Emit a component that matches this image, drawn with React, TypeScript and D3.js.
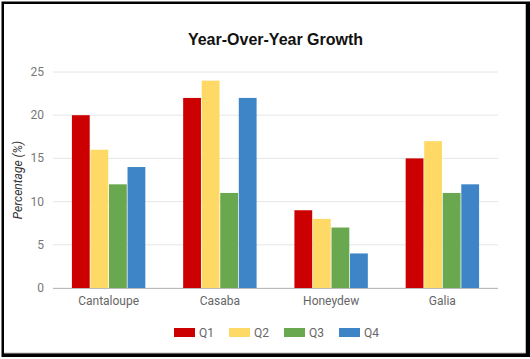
import { useEffect, useRef } from "react";
import * as d3 from "d3";

const categories = ["Cantaloupe", "Casaba", "Honeydew", "Galia"];
const quarters = ["Q1", "Q2", "Q3", "Q4"];
const q1 = [20, 22, 9, 15];
const q2 = [16, 24, 8, 17];
const q3 = [12, 11, 7, 11];
const q4 = [14, 22, 4, 12];
const yTicks = [0, 5, 10, 15, 20, 25];
const colors = ["#cc0000", "#ffd966", "#6aa84f", "#3d85c6"];

const App = () => {
  const svgRef = useRef<SVGSVGElement>(null);

  useEffect(() => {
    const w = 530;
    const h = 359;
    const svg = d3.select(svgRef.current).attr("width", w).attr("height", h);
    svg.selectAll("*").remove();

    const font = "Roboto, 'Liberation Sans', Arial, sans-serif";

    // frame
    svg.append("rect").attr("x", 1.5).attr("y", 1.5).attr("width", 528.5).attr("height", 355.5).attr("fill", "#000");
    svg.append("rect").attr("x", 4).attr("y", 4).attr("width", 522).attr("height", 349).attr("fill", "#fff");
    svg.append("path").attr("d", "M525.5,4V353H4").attr("fill", "none").attr("stroke", "#bbb").attr("stroke-width", 1);

    const left = 53, right = 498, top = 72, bottom = 288;

    const x = d3.scaleBand().domain(categories).range([left, right]).paddingInner(0.34).paddingOuter(0.17);
    const xq = d3.scaleBand().domain(quarters).range([0, x.bandwidth()]).paddingInner(0.04);
    const y = d3.scaleLinear().domain([0, 25]).range([bottom, top]);

    // grid
    svg.append("g")
      .selectAll("line")
      .data(yTicks)
      .join("line")
      .attr("x1", left)
      .attr("x2", right)
      .attr("y1", d => y(d))
      .attr("y2", d => y(d))
      .attr("stroke", "#e6e6e6")
      .attr("stroke-width", 1);

    svg.append("g")
      .selectAll("text")
      .data(yTicks)
      .join("text")
      .attr("x", 44)
      .attr("y", d => y(d) + 4)
      .attr("text-anchor", "end")
      .attr("font-family", font)
      .attr("font-size", 12)
      .attr("fill", "#777")
      .text(d => d);

    // bars
    const series = [q1, q2, q3, q4];
    series.forEach((vals, qi) => {
      svg.append("g")
        .selectAll("rect")
        .data(vals)
        .join("rect")
        .attr("x", (d, i) => x(categories[i])! + xq(quarters[qi])!)
        .attr("y", d => y(d))
        .attr("width", xq.bandwidth())
        .attr("height", d => bottom - y(d))
        .attr("fill", colors[qi]);
    });

    // baseline
    svg.append("line")
      .attr("x1", left).attr("x2", right)
      .attr("y1", bottom + 0.5).attr("y2", bottom + 0.5)
      .attr("stroke", "#bbb");

    svg.append("g")
      .selectAll("text")
      .data(categories)
      .join("text")
      .attr("x", d => x(d)! + x.bandwidth() / 2)
      .attr("y", 305)
      .attr("text-anchor", "middle")
      .attr("font-family", font)
      .attr("font-size", 12)
      .attr("fill", "#666")
      .text(d => d);

    // title
    svg.append("text")
      .attr("x", (left + right) / 2)
      .attr("y", 45)
      .attr("text-anchor", "middle")
      .attr("font-family", "'Liberation Sans', Arial, sans-serif")
      .attr("font-weight", "bold")
      .attr("font-size", 16)
      .attr("fill", "#111")
      .text("Year-Over-Year Growth");

    // y label
    svg.append("text")
      .attr("transform", `translate(22,${(top + bottom) / 2}) rotate(-90)`)
      .attr("text-anchor", "middle")
      .attr("font-family", font)
      .attr("font-style", "italic")
      .attr("font-size", 12)
      .attr("fill", "#333")
      .text("Percentage (%)");

    // legend
    const legend = svg.append("g")
      .selectAll("g")
      .data(quarters)
      .join("g")
      .attr("transform", (d, i) => `translate(${174 + i * 55},328)`);
    legend.append("rect")
      .attr("width", 21)
      .attr("height", 9)
      .attr("fill", (d, i) => colors[i]);
    legend.append("text")
      .attr("x", 25)
      .attr("y", 9)
      .attr("font-family", font)
      .attr("font-size", 12)
      .attr("fill", "#666")
      .text(d => d);
  }, []);

  return (
    <div style={{ position: "absolute", left: 0, top: 0 }}>
      <svg ref={svgRef}></svg>
    </div>
  );
};

export default App;
